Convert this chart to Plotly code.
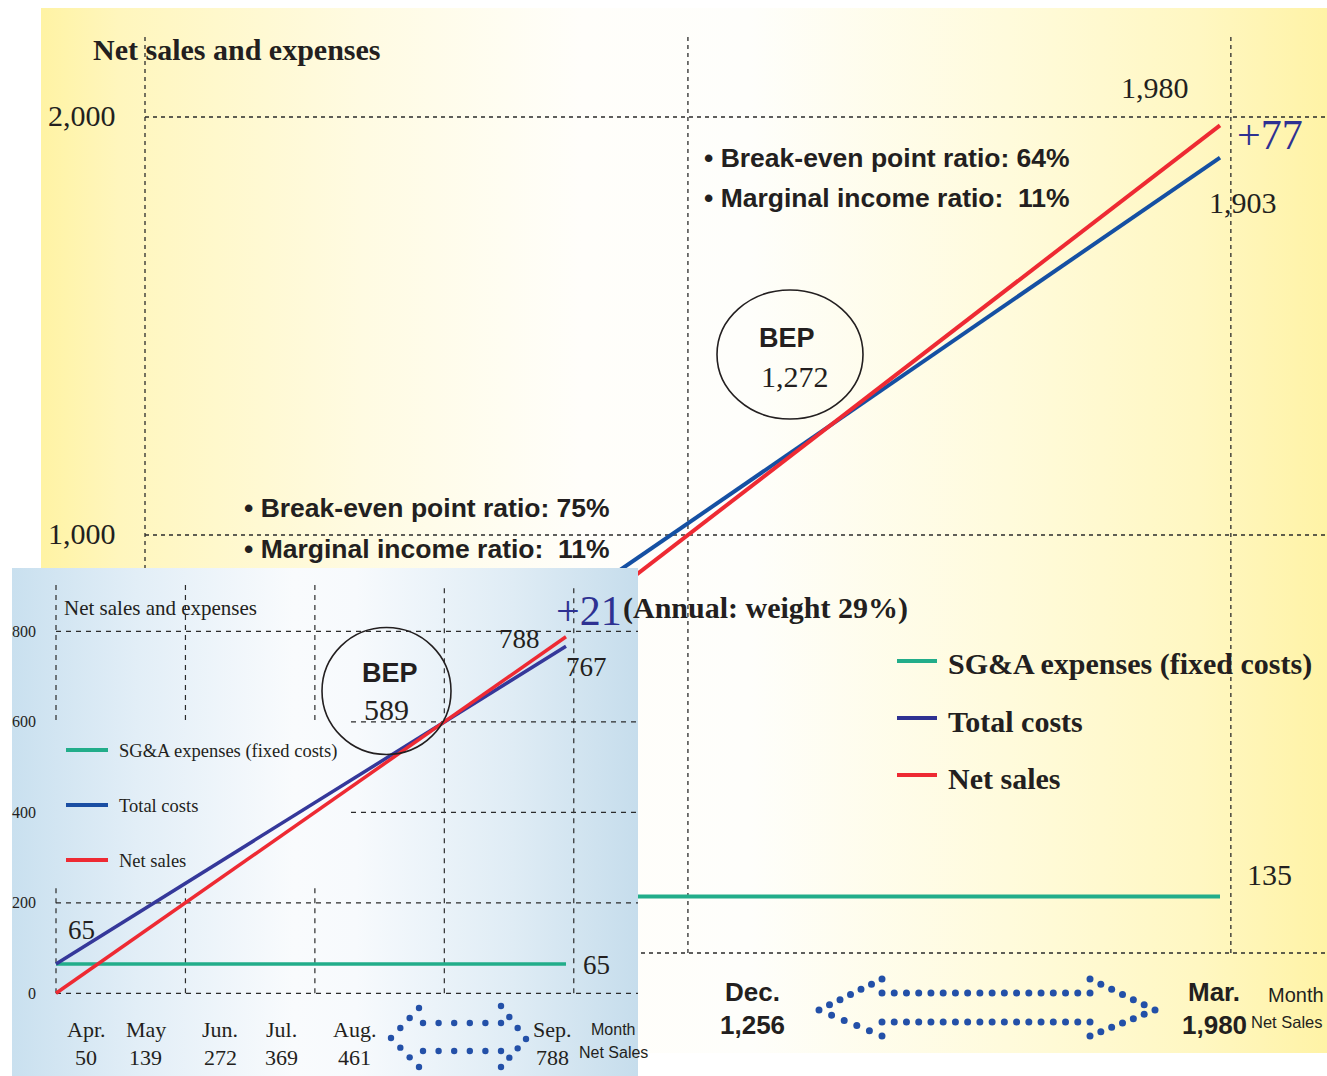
import base64
import plotly.graph_objects as go

# ---------------- data ----------------
# Full business year (Apr.–Mar.): horizontal axis is cumulative net sales
annual_sales_axis = [0, 1980]
annual_net_sales = [0, 1980]
annual_total_costs = [135, 1903]
annual_fixed_costs = [135, 135]
annual_bep = 1272
annual_bep_ratio = 64
annual_margin_ratio = 11
annual_months = ["Dec.", "Mar."]
annual_month_sales = [1256, 1980]
main_yticks = [1000, 2000]

# First half (Apr.–Sep.)
h1_sales_axis = [0, 788]
h1_net_sales = [0, 788]
h1_total_costs = [65, 767]
h1_fixed_costs = [65, 65]
h1_bep = 589
h1_bep_ratio = 75
h1_margin_ratio = 11
h1_weight = 29
h1_months = ["Apr.", "May", "Jun.", "Jul.", "Aug.", "Sep."]
h1_month_sales = [50, 139, 272, 369, 461, 788]
inset_yticks = [0, 200, 400, 600, 800]

series_names = ["SG&A expenses (fixed costs)", "Total costs", "Net sales"]

# ---------------- styling ----------------
W, H = 1327, 1076
SERIF = "Liberation Serif, Times New Roman, serif"
SANS = "Liberation Sans, Arial, sans-serif"
INK = "#231f20"
NAVY = "#2e3192"
RED = "#ee2a33"
GREEN = "#22ad8a"
BLUE_MAIN = "#1550a3"
BLUE_INSET = "#35389a"
DOT_BLUE = "#2350a8"
GRID_DASH = "4px,4px"

# pixel layout of the two panels
MAIN_BOX = (41, 8, 1327, 1053)          # left, top, right, bottom
MAIN_X0, MAIN_XK = 145, 1075 / 1980     # pixel of 0, px per unit
MAIN_Y0, MAIN_YK = 953, 0.418
INSET_BOX = (12, 568, 638, 1076)
INSET_X0, INSET_XK = 56, 510 / 788
INSET_Y0, INSET_YK = 993.3, 0.4525


def px(x):
    return x / W


def py(y):
    return 1 - y / H


def mval_x(p):
    return (p - MAIN_X0) / MAIN_XK


def mval_y(p):
    return (MAIN_Y0 - p) / MAIN_YK


def ival_x(p):
    return (p - INSET_X0) / INSET_XK


def ival_y(p):
    return (INSET_Y0 - p) / INSET_YK


def gradient_uri(stops):
    st = "".join(
        f'<stop offset="{o}" stop-color="{c}"/>' for o, c in stops
    )
    svg = (
        '<svg xmlns="http://www.w3.org/2000/svg" width="200" height="100" '
        'viewBox="0 0 200 100" preserveAspectRatio="none">'
        f'<defs><linearGradient id="g" x1="0" y1="0" x2="1" y2="0">{st}</linearGradient></defs>'
        '<rect x="0" y="0" width="200" height="100" fill="url(#g)"/></svg>'
    )
    return "data:image/svg+xml;base64," + base64.b64encode(svg.encode()).decode()


yellow_bg = gradient_uri([
    (0, "#fff3a4"), (0.06, "#fff6bd"), (0.25, "#fffbe2"), (0.42, "#fffefa"),
    (0.55, "#fefefb"), (0.75, "#fffbdc"), (0.9, "#fff7c2"), (1, "#fff3a6"),
])
blue_bg = gradient_uri([
    (0, "#c9e0ef"), (0.2, "#e2eef7"), (0.45, "#f9fbfd"), (0.55, "#f7fafd"),
    (0.8, "#dfecf5"), (1, "#c6ddec"),
])

fig = go.Figure()

# ---------------- full-year lines ----------------
fig.add_trace(go.Scatter(x=annual_sales_axis, y=annual_fixed_costs, mode="lines",
                         line=dict(color=GREEN, width=4), xaxis="x", yaxis="y",
                         name=series_names[0], hoverinfo="skip"))
fig.add_trace(go.Scatter(x=annual_sales_axis, y=annual_total_costs, mode="lines",
                         line=dict(color=BLUE_MAIN, width=4), xaxis="x", yaxis="y",
                         name=series_names[1], hoverinfo="skip"))
fig.add_trace(go.Scatter(x=annual_sales_axis, y=annual_net_sales, mode="lines",
                         line=dict(color=RED, width=4), xaxis="x", yaxis="y",
                         name=series_names[2], hoverinfo="skip"))

# ---------------- first-half lines (inset) ----------------
fig.add_trace(go.Scatter(x=h1_sales_axis, y=h1_fixed_costs, mode="lines",
                         line=dict(color=GREEN, width=3.5), xaxis="x2", yaxis="y2",
                         name=series_names[0], hoverinfo="skip"))
fig.add_trace(go.Scatter(x=h1_sales_axis, y=h1_total_costs, mode="lines",
                         line=dict(color=BLUE_INSET, width=3.5), xaxis="x2", yaxis="y2",
                         name=series_names[1], hoverinfo="skip"))
fig.add_trace(go.Scatter(x=h1_sales_axis, y=h1_net_sales, mode="lines",
                         line=dict(color=RED, width=3.5), xaxis="x2", yaxis="y2",
                         name=series_names[2], hoverinfo="skip"))

shapes = []
annotations = []

# ---------------- grid: full-year panel ----------------
main_right = mval_x(MAIN_BOX[2])
main_top = mval_y(33)
for v in [0, 1000, 2000]:
    shapes.append(dict(type="line", xref="x", yref="y", layer="between",
                       x0=0, x1=main_right, y0=v, y1=v,
                       line=dict(color="#2b2b2b", width=1.3, dash=GRID_DASH)))
    shapes.append(dict(type="line", xref="x", yref="y", layer="between",
                       x0=v, x1=v, y0=0, y1=main_top,
                       line=dict(color="#2b2b2b", width=1.3, dash=GRID_DASH)))

# ---------------- grid: inset panel (gaps around the legend) ----------------
inset_right = ival_x(INSET_BOX[2])
inset_top = ival_y(585)
gap_left = ival_x(351)
for v, x0 in [(800, 0), (600, gap_left), (400, gap_left), (200, 0), (0, 0)]:
    shapes.append(dict(type="line", xref="x2", yref="y2", layer="between",
                       x0=x0, x1=inset_right, y0=v, y1=v,
                       line=dict(color="#2b2b2b", width=1.2, dash="5px,5px")))
for v in [0, 200, 400]:
    for y0, y1 in [(ival_y(720), inset_top), (0, ival_y(884))]:
        shapes.append(dict(type="line", xref="x2", yref="y2", layer="between",
                           x0=v, x1=v, y0=y0, y1=y1,
                           line=dict(color="#2b2b2b", width=1.2, dash="5px,5px")))
for v in [600, 800]:
    shapes.append(dict(type="line", xref="x2", yref="y2", layer="between",
                       x0=v, x1=v, y0=0, y1=inset_top,
                       line=dict(color="#2b2b2b", width=1.2, dash="5px,5px")))


def ann(text, x, y, size, family=SERIF, color=INK, xanchor="center",
        yanchor="middle", xref="paper", yref="paper", xshift=0, yshift=0):
    annotations.append(dict(text=text, x=x, y=y, xref=xref, yref=yref,
                            xanchor=xanchor, yanchor=yanchor, showarrow=False,
                            xshift=xshift, yshift=yshift,
                            font=dict(family=family, size=size, color=color)))


def circle(cx, cy, rx, ry, width=1.6):
    shapes.append(dict(type="circle", xref="paper", yref="paper", layer="above",
                       x0=px(cx - rx), x1=px(cx + rx), y0=py(cy + ry), y1=py(cy - ry),
                       line=dict(color=INK, width=width)))


def legend_line(x0, x1, y, color, width=4):
    shapes.append(dict(type="line", xref="paper", yref="paper", layer="above",
                       x0=px(x0), x1=px(x1), y0=py(y), y1=py(y),
                       line=dict(color=color, width=width)))


def dotted_arrow(pts, spacing, r, color):
    n_pts = len(pts)
    for i in range(n_pts):
        (xa, ya), (xb, yb) = pts[i], pts[(i + 1) % n_pts]
        length = ((xb - xa) ** 2 + (yb - ya) ** 2) ** 0.5
        n = max(1, round(length / spacing))
        for k in range(n):
            cx = xa + (xb - xa) * k / n
            cy = ya + (yb - ya) * k / n
            shapes.append(dict(type="circle", xref="paper", yref="paper", layer="above",
                               x0=px(cx - r), x1=px(cx + r), y0=py(cy + r), y1=py(cy - r),
                               fillcolor=color, line=dict(width=0)))


# ---------------- full-year annotations ----------------
ann("<b>Net sales and expenses</b>", px(91), py(50), 30, xanchor="left")
for v in main_yticks:
    ann(f"{v:,}", px(118), v, 30, xanchor="right", yref="y", yshift=2)

end_x = annual_sales_axis[-1]
ann(f"{annual_net_sales[-1]:,}", end_x, annual_net_sales[-1], 30,
    xref="x", yref="y", xshift=-65, yshift=38)
ann(f"+{annual_net_sales[-1] - annual_total_costs[-1]}", end_x, annual_net_sales[-1], 42,
    color=NAVY, xanchor="left", xref="x", yref="y", xshift=15, yshift=-10)
ann(f"{annual_total_costs[-1]:,}", end_x, annual_total_costs[-1], 30,
    xref="x", yref="y", xshift=23, yshift=-45)
ann(f"{annual_fixed_costs[-1]}", end_x, annual_fixed_costs[-1], 30,
    xanchor="left", xref="x", yref="y", xshift=25, yshift=22)

ann(f"<b>• Break-even point ratio: {annual_bep_ratio}%</b>", px(702), py(158), 26.5,
    family=SANS, xanchor="left")
ann(f"<b>• Marginal income ratio:\u00a0 {annual_margin_ratio}%</b>", px(702), py(198), 26.5,
    family=SANS, xanchor="left")
ann(f"<b>• Break-even point ratio: {h1_bep_ratio}%</b>", px(242), py(508), 26.5,
    family=SANS, xanchor="left")
ann(f"<b>• Marginal income ratio:\u00a0 {h1_margin_ratio}%</b>", px(242), py(549), 26.5,
    family=SANS, xanchor="left")

circle(790, 354.5, 73, 64.5)
ann("<b>BEP</b>", px(787), py(338), 27, family=SANS)
ann(f"{annual_bep:,}", px(795), py(376), 30)

for (name, color), y in zip(zip(series_names, [GREEN, NAVY, RED]), [661, 718, 775]):
    legend_line(897, 937, y, color)
    ann(f"<b>{name}</b>", px(946), py(y + 3), 30, xanchor="left")

for m, v, nudge in zip(annual_months, annual_month_sales, [-74, -6]):
    ann(f"<b>{m}</b>", v, py(992), 26, family=SANS, xref="x", xshift=nudge)
    ann(f"<b>{v:,}</b>", v, py(1025), 26, family=SANS, xref="x", xshift=nudge)
ann("Month", px(1296), py(995), 20, family=SANS)
ann("Net Sales", px(1325), py(1022), 16.5, family=SANS, xanchor="right")

dotted_arrow([(819, 1010), (882, 979), (882, 993), (1090, 993), (1090, 979),
              (1155, 1010), (1090, 1036), (1090, 1022), (882, 1022), (882, 1036)],
             12.4, 3.5, DOT_BLUE)

# ---------------- inset annotations ----------------
ann("Net sales and expenses", px(62), py(608), 21, xanchor="left")
for v in inset_yticks:
    ann(str(v), px(38), v, 16, xanchor="right", yref="y2")

h1_end = h1_sales_axis[-1]
ann(f"+{h1_net_sales[-1] - h1_total_costs[-1]}", h1_end, h1_net_sales[-1], 42,
    color=NAVY, xanchor="left", xref="x2", yref="y2", xshift=-12, yshift=26)
ann(f"<b>(Annual: weight {h1_weight}%)</b>", h1_end, h1_net_sales[-1], 30,
    xanchor="left", xref="x2", yref="y2", xshift=55, yshift=29)
ann(f"{h1_net_sales[-1]}", h1_end, h1_net_sales[-1], 27, xanchor="right",
    xref="x2", yref="y2", xshift=-24, yshift=-2)
ann(f"{h1_total_costs[-1]}", h1_end, h1_total_costs[-1], 27, xanchor="left",
    xref="x2", yref="y2", xshift=-2, yshift=-21)
ann(f"{h1_total_costs[0]}", h1_sales_axis[0], h1_total_costs[0], 27, xanchor="left",
    xref="x2", yref="y2", xshift=10, yshift=34)
ann(f"{h1_fixed_costs[-1]}", h1_end, h1_fixed_costs[-1], 27, xanchor="left",
    xref="x2", yref="y2", xshift=15, yshift=-1)

circle(386.5, 691, 64.5, 63.5)
ann("<b>BEP</b>", px(390), py(673), 27, family=SANS)
ann(f"{h1_bep}", px(386), py(709), 30)

for (name, color), y in zip(zip(series_names, [GREEN, "#1a4ea3", RED]), [750, 805, 860]):
    legend_line(66, 108, y, color)
    ann(name, px(117), py(y + 1), 18.5, xanchor="left")

for m, v, nudge in zip(h1_months, h1_month_sales, [-2, 0, -12, -13, 0, -14]):
    ann(m, v, py(1029), 22, xref="x2", xshift=nudge)
    ann(str(v), v, py(1057), 22, xref="x2", xshift=nudge)
ann("Month", px(613), py(1029), 16, family=SANS)
ann("Net Sales", px(613), py(1052), 16, family=SANS)

dotted_arrow([(391, 1038), (419, 1008), (423, 1023), (501, 1023), (501, 1006),
              (526, 1039), (501, 1067), (501, 1051), (423, 1051), (419, 1067)],
             14.5, 3.2, DOT_BLUE)

# ---------------- backgrounds ----------------
images = [
    dict(source=yellow_bg, xref="paper", yref="paper", layer="below", sizing="stretch",
         x=px(MAIN_BOX[0]), y=py(MAIN_BOX[1]),
         sizex=(MAIN_BOX[2] - MAIN_BOX[0]) / W, sizey=(MAIN_BOX[3] - MAIN_BOX[1]) / H,
         xanchor="left", yanchor="top"),
]
x2_range = [ival_x(INSET_BOX[0]), ival_x(INSET_BOX[2])]
y2_range = [ival_y(INSET_BOX[3]), ival_y(INSET_BOX[1])]
images.append(dict(source=blue_bg, xref="x2", yref="y2", layer="below", sizing="stretch",
                   x=x2_range[0], y=y2_range[1],
                   sizex=x2_range[1] - x2_range[0], sizey=y2_range[1] - y2_range[0],
                   xanchor="left", yanchor="top"))

hidden = dict(visible=False, showgrid=False, zeroline=False, fixedrange=True)
fig.update_layout(
    width=W, height=H,
    margin=dict(l=0, r=0, t=0, b=0, pad=0),
    paper_bgcolor="white", plot_bgcolor="white",
    showlegend=False,
    xaxis=dict(domain=[px(MAIN_BOX[0]), 1],
               range=[mval_x(MAIN_BOX[0]), mval_x(MAIN_BOX[2])], **hidden),
    yaxis=dict(domain=[py(MAIN_BOX[3]), py(MAIN_BOX[1])],
               range=[mval_y(MAIN_BOX[3]), mval_y(MAIN_BOX[1])], **hidden),
    xaxis2=dict(domain=[px(INSET_BOX[0]), px(INSET_BOX[2])], anchor="y2",
                range=x2_range, **hidden),
    yaxis2=dict(domain=[0, py(INSET_BOX[1])], anchor="x2", range=y2_range, **hidden),
    shapes=shapes,
    annotations=annotations,
    images=images,
)

fig.write_html("out.html")
